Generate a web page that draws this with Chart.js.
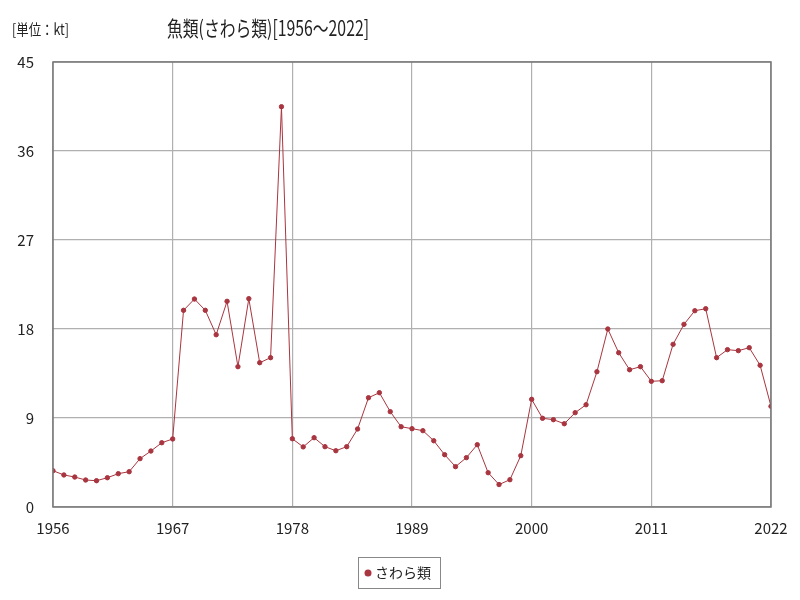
<!DOCTYPE html>
<html>
<head>
<meta charset="utf-8">
<script src="https://cdn.jsdelivr.net/npm/chart.js@4"></script>
<style>
  html, body { margin: 0; padding: 0; background: #fff; }
  #wrap { width: 800px; height: 600px; position: relative; }
</style>
</head>
<body>
<div id="wrap"><canvas id="c" width="800" height="600"></canvas></div>
<script>
// 魚類(さわら類) 1956〜2022, unit kt

const YEARS = [];
for (let y = 1956; y <= 2022; y++) YEARS.push(y);

const SAWARA = [
  3.67, 3.24, 3.03, 2.73, 2.66, 2.96, 3.37, 3.57, 4.89, 5.66,
  6.50, 6.88, 19.89, 21.03, 19.89, 17.42, 20.80, 14.19, 21.07, 14.59,
  15.10, 40.48, 6.90, 6.08, 7.01, 6.10, 5.69, 6.10, 7.89, 11.05,
  11.56, 9.64, 8.12, 7.92, 7.72, 6.70, 5.29, 4.08, 4.99, 6.30,
  3.47, 2.27, 2.76, 5.19, 10.89, 8.97, 8.83, 8.42, 9.54, 10.34,
  13.68, 18.00, 15.60, 13.88, 14.19, 12.71, 12.77, 16.45, 18.47, 19.85,
  20.05, 15.10, 15.91, 15.81, 16.11, 14.33, 10.18
];

const SERIES_NAME = "さわら類";
const TITLE = "魚類(さわら類)[1956〜2022]";
const UNIT = "[単位：kt]";
const Y_TICKS = [0, 9, 18, 27, 36, 45];

const FONT = '"Noto Sans CJK JP", "Noto Sans", sans-serif';
const LINE = "#a8353f";
const GRID = "#b0b0b0";

// text squeezed to a given width, like the narrow gothic of the original
function narrowText(ctx, txt, x, y, w, align) {
  const m = ctx.measureText(txt).width;
  const k = Math.min(1, w / m);
  ctx.save();
  ctx.translate(x, y);
  ctx.scale(k, 1);
  ctx.textAlign = align;
  ctx.fillText(txt, 0, 0);
  ctx.restore();
}

const decor = {
  id: "decor",
  afterDraw(chart) {
    const { ctx, chartArea: a } = chart;
    ctx.save();
    // plot frame
    ctx.strokeStyle = "#777";
    ctx.lineWidth = 1.5;
    ctx.strokeRect(a.left, a.top, a.right - a.left, a.bottom - a.top);
    // title + unit
    ctx.fillStyle = "#222";
    ctx.textBaseline = "middle";
    ctx.font = "21px " + FONT;
    narrowText(ctx, TITLE, 268, 28, 202, "center");
    ctx.font = "15px " + FONT;
    narrowText(ctx, UNIT, 12, 29, 57, "left");
    // legend box
    ctx.strokeStyle = "#888";
    ctx.lineWidth = 1;
    ctx.strokeRect(358.5, 557.5, 82, 31);
    ctx.fillStyle = LINE;
    ctx.beginPath();
    ctx.arc(368, 573, 3.5, 0, Math.PI * 2);
    ctx.fill();
    ctx.fillStyle = "#222";
    ctx.textAlign = "left";
    ctx.font = "14px " + FONT;
    ctx.fillText(SERIES_NAME, 375, 573);
    ctx.restore();
  }
};

new Chart(document.getElementById("c"), {
  type: "line",
  data: {
    datasets: [{
      label: SERIES_NAME,
      data: YEARS.map((y, i) => ({ x: y, y: SAWARA[i] })),
      borderColor: LINE,
      backgroundColor: LINE,
      borderWidth: 1,
      pointRadius: 2.2,
      pointHoverRadius: 2.2,
      tension: 0,
    }]
  },
  options: {
    responsive: false,
    animation: false,
    layout: { padding: { top: 62, right: 29, bottom: 60, left: 0 } },
    plugins: { legend: { display: false }, tooltip: { enabled: false } },
    scales: {
      x: {
        type: "linear",
        min: 1956, max: 2022,
        afterFit(s) { s.height = 33; },
        ticks: {
          stepSize: 11, padding: 12, color: "#222",
          font: { family: FONT, size: 15 },
          callback: v => String(v), maxRotation: 0,
        },
        grid: { color: GRID, lineWidth: 1.2, drawTicks: false },
        border: { display: false },
      },
      y: {
        min: 0, max: 45,
        afterFit(s) { s.width = 53; },
        afterBuildTicks(s) { s.ticks = Y_TICKS.map(v => ({ value: v })); },
        ticks: {
          padding: 19, color: "#222",
          font: { family: FONT, size: 15 },
        },
        grid: { color: GRID, lineWidth: 1.2, drawTicks: false },
        border: { display: false },
      }
    }
  },
  plugins: [decor]
});
</script>
</body>
</html>
